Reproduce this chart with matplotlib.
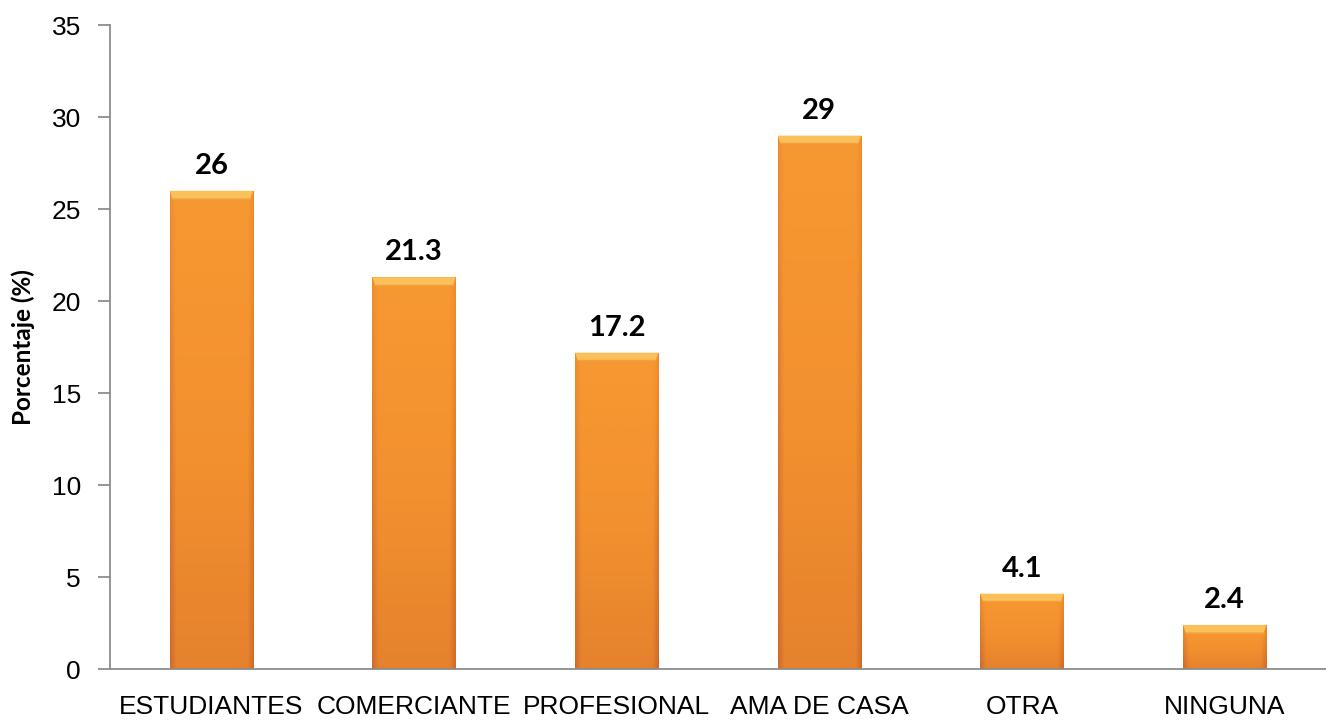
import matplotlib.pyplot as plt
import numpy as np
from matplotlib.colors import LinearSegmentedColormap

ocupaciones = ["ESTUDIANTES", "COMERCIANTE", "PROFESIONAL", "AMA DE CASA", "OTRA", "NINGUNA"]
porcentajes = [26, 21.3, 17.2, 29, 4.1, 2.4]
etiquetas = ["26", "21.3", "17.2", "29", "4.1", "2.4"]

ancho = 0.41
naranja = LinearSegmentedColormap.from_list(
    "naranja", ["#c8652a", "#de7a2c", "#f2902f", "#f89a32"])

fig = plt.figure(figsize=(13.26, 7.21), dpi=100)
ax = fig.add_axes([0.083, 0.072, 0.917, 0.893])

x = np.arange(len(ocupaciones))
barras = ax.bar(x, porcentajes, width=ancho, color="none", edgecolor="none", zorder=2)

# degradado vertical con bordes laterales oscurecidos
for b, txt in zip(barras, etiquetas):
    x0 = b.get_x()
    h = b.get_height()
    ny, nx = 200, 80
    yy = np.linspace(0, 1, ny)[:, None]
    xx = np.linspace(-1, 1, nx)[None, :]
    grad = 0.45 + 0.5 * yy - 0.35 * np.clip(np.abs(xx) - 0.85, 0, None) / 0.15
    grad = np.clip(grad, 0, 1)
    img = ax.imshow(grad, cmap=naranja, vmin=0, vmax=1, origin="lower",
                    extent=[x0, x0 + ancho, 0, h], aspect="auto", zorder=2)
    img.set_clip_path(b)
    # tapa superior biselada
    tapa = min(0.42, h * 0.2)
    d = 0.012
    ax.fill([x0, x0 + ancho, x0 + ancho - d, x0 + d],
            [h, h, h - tapa, h - tapa], color="#fbc05a", zorder=3, lw=0)
    ax.plot([x0 + d, x0 + ancho - d], [h - tapa, h - tapa], color="#f0a040", lw=1, zorder=3)
    ax.text(x0 + ancho / 2, h + 0.65, txt,
            ha="center", va="bottom", fontsize=21, fontweight="bold",
            family="Lato", color="black")

ax.set_xlim(-0.5, len(ocupaciones) - 0.5)
ax.set_ylim(0, 35)
ax.set_yticks(range(0, 36, 5))
ax.set_xticks(x)
ax.set_xticklabels(ocupaciones, family="Liberation Sans", fontsize=19)
for t in ax.get_yticklabels():
    t.set_family("Liberation Sans")
    t.set_fontsize(19)
ax.tick_params(axis="x", length=0, pad=19)
ax.tick_params(axis="y", length=9, color="#8c8c8c", width=1.3, pad=12)
ax.set_ylabel("Porcentaje (%)", family="Lato", fontweight="bold", fontsize=17.5, labelpad=12)

for s in ["top", "right"]:
    ax.spines[s].set_visible(False)
for s in ["left", "bottom"]:
    ax.spines[s].set_color("#8c8c8c")
    ax.spines[s].set_linewidth(1.3)

fig.savefig("out.png", dpi=100)
